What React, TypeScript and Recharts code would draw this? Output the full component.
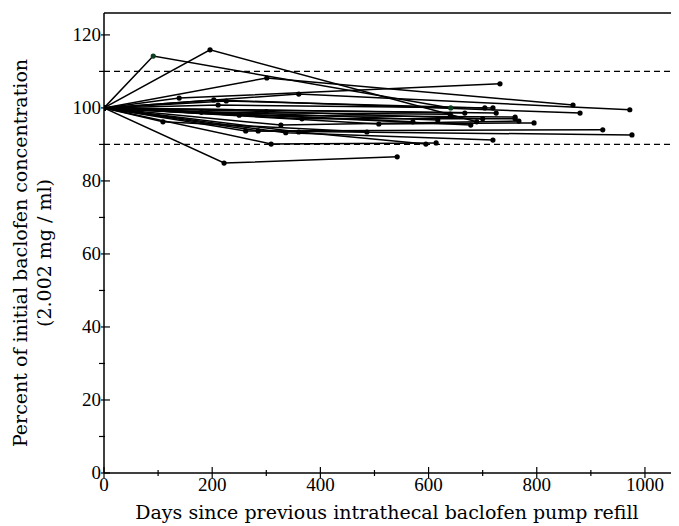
import React from 'react';
import { LineChart, Line, XAxis, YAxis, ReferenceLine, Label } from 'recharts';

// days since refill for each patient's measurements (first point is the refill itself)
const patientDays: number[][] = [
  [0, 91, 641],
  [0, 196, 689],
  [0, 301, 867],
  [0, 139, 732],
  [0, 360, 972],
  [0, 203, 880],
  [0, 226, 704],
  [0, 211, 719],
  [0, 109, 486],
  [0, 222, 542],
  [0, 309, 614],
  [0, 262, 922],
  [0, 285, 976],
  [0, 336, 719],
  [0, 327, 767],
  [0, 360, 595],
  [0, 366, 760],
  [0, 508, 795],
  [0, 571],
  [0, 617],
  [0, 667],
  [0, 678],
  [0, 725],
  [0, 250, 760],
  [0, 180, 640],
  [0, 300, 700],
];

// percent of initial concentration, matching patientDays
const patientPct: number[][] = [
  [100, 114.2, 100.0],
  [100, 115.9, 96.2],
  [100, 108.2, 100.8],
  [100, 102.7, 106.6],
  [100, 103.8, 99.5],
  [100, 102.2, 98.6],
  [100, 101.9, 100.0],
  [100, 100.8, 100.0],
  [100, 96.2, 93.4],
  [100, 84.9, 86.6],
  [100, 90.1, 90.4],
  [100, 93.7, 94.0],
  [100, 93.7, 92.6],
  [100, 93.2, 91.2],
  [100, 95.3, 96.4],
  [100, 93.4, 90.1],
  [100, 97.0, 97.0],
  [100, 95.6, 95.9],
  [100, 96.2],
  [100, 96.7],
  [100, 98.6],
  [100, 95.3],
  [100, 98.6],
  [100, 98.0, 97.5],
  [100, 98.8, 98.3],
  [100, 99.0, 97.0],
];

const xTicks = [0, 100, 200, 300, 400, 500, 600, 700, 800, 900, 1000];
const yTicks = [0, 10, 20, 30, 40, 50, 60, 70, 80, 90, 100, 110, 120];
const limits = [90, 110];

const FONT = '"Liberation Serif", "Times New Roman", serif';
const TITLE_FONT = '"DejaVu Serif", serif';

const series = patientDays.map((days, i) =>
  days.map((d, j) => ({ x: d, y: patientPct[i][j] }))
);

const XTick = (props: any) => {
  const { x, y, payload } = props;
  const major = payload.value % 200 === 0;
  return (
    <g>
      <line x1={x} x2={x} y1={y - (major ? 6 : 3)} y2={y + (major ? 5 : 3)} stroke="#000" strokeWidth={1.2} />
      {major && (
        <text x={x} y={y + 18} textAnchor="middle" fontFamily={FONT} fontSize={19} fill="#000">
          {payload.value}
        </text>
      )}
    </g>
  );
};

const YTick = (props: any) => {
  const { x, y, payload } = props;
  const major = payload.value % 20 === 0;
  return (
    <g>
      <line x1={x - (major ? 3 : 5)} x2={x + (major ? 6 : 1)} y1={y} y2={y} stroke="#000" strokeWidth={1.2} />
      {major && (
        <text x={x - 3} y={y + 6} textAnchor="end" fontFamily={FONT} fontSize={19} fill="#000">
          {payload.value}
        </text>
      )}
    </g>
  );
};

const YTitle = () => (
  <g fontFamily={TITLE_FONT} fontSize={19} fill="#000">
    <text transform="translate(19, 245) rotate(-90)" textAnchor="middle">
      Percent of initial baclofen concentration
    </text>
    <text transform="translate(43, 245) rotate(-90)" textAnchor="middle">
      (2.002 mg / ml)
    </text>
  </g>
);

export default function App() {
  return (
    <LineChart width={671} height={518} margin={{ top: 5, right: 7, bottom: 0, left: 0 }}>
      <XAxis
        type="number"
        dataKey="x"
        domain={[0, 1050]}
        ticks={xTicks}
        tick={<XTick />}
        tickLine={false}
        tickSize={0}
        tickMargin={0}
        height={53}
        axisLine={{ stroke: '#000', strokeWidth: 1.5 }}
        allowDataOverflow
      >
        <Label
          content={() => (
            <text x={379} y={511} textAnchor="middle" fontFamily={TITLE_FONT} fontSize={19} fill="#000">
              Days since previous intrathecal baclofen pump refill
            </text>
          )}
        />
      </XAxis>
      <YAxis
        type="number"
        domain={[0, 126]}
        ticks={yTicks}
        tick={<YTick />}
        tickLine={false}
        tickSize={0}
        tickMargin={0}
        width={96}
        axisLine={{ stroke: '#000', strokeWidth: 1.5 }}
        allowDataOverflow
      >
        <Label content={() => <YTitle />} />
      </YAxis>
      <ReferenceLine y={126} stroke="#000" strokeWidth={1.5} />
      <ReferenceLine x={1050} stroke="#777" strokeWidth={2} />
      {limits.map((v) => (
        <ReferenceLine key={v} y={v} stroke="#000" strokeWidth={1.3} strokeDasharray="6 4" />
      ))}
      {series.map((pts, i) => (
        <Line
          key={i}
          data={pts}
          dataKey="y"
          type="linear"
          stroke="#000"
          strokeWidth={1.5}
          dot={{ r: 2.6, fill: i === 0 ? '#0b3d1e' : '#000', stroke: 'none' }}
          activeDot={false}
          isAnimationActive={false}
        />
      ))}
    </LineChart>
  );
}
